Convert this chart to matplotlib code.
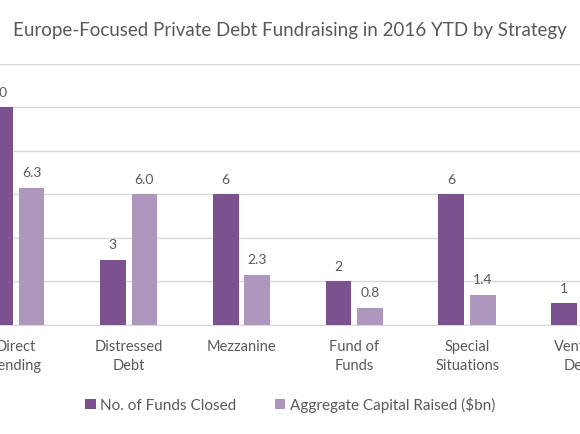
import matplotlib.pyplot as plt
import numpy as np

plt.rcParams['font.family'] = ['Lato', 'DejaVu Sans']

strategies = ['Direct\nLending', 'Distressed\nDebt', 'Mezzanine', 'Fund of\nFunds',
              'Special\nSituations', 'Venture\nDebt']
funds_closed = [10, 3, 6, 2, 6, 1]
capital_raised = [6.3, 6.0, 2.3, 0.8, 1.4, 0.3]
funds_labels = ['10', '3', '6', '2', '6', '1']
capital_labels = ['6.3', '6.0', '2.3', '0.8', '1.4', '0.3']

dark = '#7b5190'
light = '#ad97bd'
grey_text = '#595959'

fig = plt.figure(figsize=(5.8, 4.35), dpi=100)
ax = fig.add_axes([0, 0.2506, 1, 0.6])

x = np.arange(len(strategies))
w = 0.228
off = 0.14
b1 = ax.bar(x - off, funds_closed, w, color=dark, label='No. of Funds Closed', zorder=3)
b2 = ax.bar(x + off, capital_raised, w, color=light, label='Aggregate Capital Raised ($bn)', zorder=3)

for bars, labels in ((b1, funds_labels), (b2, capital_labels)):
    for rect, lab in zip(bars, labels):
        ax.annotate(lab, (rect.get_x() + rect.get_width() / 2, rect.get_height()),
                    xytext=(0, 7), textcoords='offset points', ha='center', va='bottom',
                    fontsize=10, color=grey_text)

ax.set_xlim(-0.14, 4.947)
ax.set_ylim(0, 12)
ax.set_yticks(np.arange(0, 13, 2))
ax.yaxis.grid(True, color='#d9d9d9', linewidth=1, zorder=0)
ax.tick_params(axis='y', left=False, labelleft=False)
ax.set_xticks(x)
ax.set_xticklabels(strategies, fontsize=10.5, color=grey_text, linespacing=1.5)
ax.tick_params(axis='x', length=0, pad=10)
for s in ['top', 'left', 'right']:
    ax.spines[s].set_visible(False)
ax.spines['bottom'].set_color('#d9d9d9')
ax.set_facecolor('none')

fig.text(0.5, 0.931, 'Europe-Focused Private Debt Fundraising in 2016 YTD by Strategy',
         ha='center', va='center', fontsize=13.5, color=grey_text)

fig.legend(handles=[b1, b2], loc='center', bbox_to_anchor=(0.5, 0.068), ncol=2,
           frameon=False, fontsize=11, labelcolor=grey_text, handlelength=0.7,
           handleheight=0.7, handletextpad=0.3, columnspacing=2.5)

fig.savefig('out.png', dpi=100)
